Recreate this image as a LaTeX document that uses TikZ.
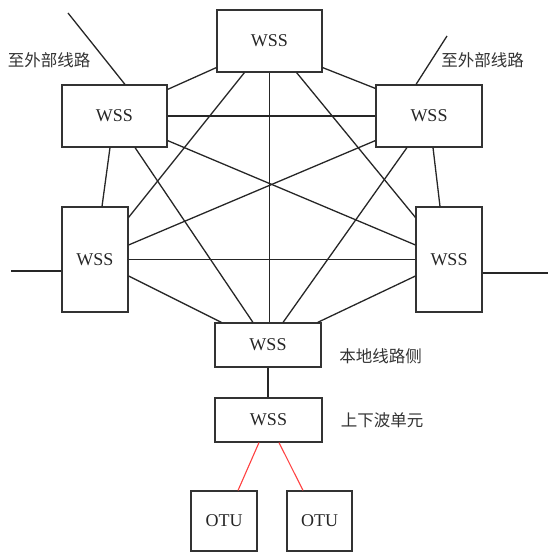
\documentclass[tikz,border=0pt]{standalone}
\usepackage{fontspec}
\setmainfont{Liberation Serif}
\newfontfamily\cjk{Noto Sans CJK SC}
\begin{document}
\begin{tikzpicture}[x=1pt,y=-1pt,
  box/.style={draw=black!80,line width=1.1pt,inner sep=0pt,font=\fontsize{18}{18}\selectfont,text=black!85},
  link/.style={draw=black!85,line width=1.3pt},
  redlink/.style={draw=red!75,line width=1.1pt},
  lbl/.style={font=\cjk\fontsize{16.5}{16.5}\selectfont,text=black!80,inner sep=0pt}]
\useasboundingbox (0,0) rectangle (548,553);
% boxes
\node[box,minimum width=105pt,minimum height=62pt] (T) at (269.5,41) {WSS};
\node[box,minimum width=105pt,minimum height=62pt] (UL) at (114.5,116) {WSS};
\node[box,minimum width=106pt,minimum height=62pt] (UR) at (429,116) {WSS};
\node[box,minimum width=66pt,minimum height=105pt] (ML) at (95,259.5) {WSS};
\node[box,minimum width=66pt,minimum height=105pt] (MR) at (449,259.5) {WSS};
\node[box,minimum width=106pt,minimum height=44pt] (B) at (268,345) {WSS};
\node[box,minimum width=107pt,minimum height=44pt] (W2) at (268.5,420) {WSS};
\node[box,minimum width=66pt,minimum height=60pt] (O1) at (224,521) {OTU};
\node[box,minimum width=65pt,minimum height=60pt] (O2) at (319.5,521) {OTU};
% labels
\node[lbl] (l1) at (49,60) {至外部线路};
\node[lbl] (l2) at (482.5,60) {至外部线路};
\node[lbl] (l3) at (380.5,356) {本地线路侧};
\node[lbl] (l4) at (382,420) {上下波单元};
% free ends
\coordinate (eUL) at (68,13);
\coordinate (eUR) at (447,36);
\coordinate (eML) at (11,271);
\coordinate (eMR) at (548,273);
% mesh
\draw[link] ([yshift=5pt]T.south west) -- ([yshift=-5pt]UL.north east);
\draw[link] ([yshift=5pt]T.south east) -- ([yshift=-4pt]UR.north west);
\draw[link] ([xshift=28pt]T.south west) -- ([yshift=-11pt]ML.north east);
\draw[link] ([xshift=-26pt]T.south east) -- ([yshift=-11pt]MR.north west);
\draw[link] (T.south) -- (T.south |- B.north);
\draw[link] (UL.east) -- (UR.west);
\draw[link] ([yshift=7pt]UL.south east) -- ([yshift=14.5pt]MR.west);
\draw[link] ([xshift=-4.5pt]UL.south) -- ([xshift=7pt]ML.north);
\draw[link] ([xshift=20.5pt]UL.south) -- ([xshift=-15pt]B.north);
\draw[link] ([yshift=7pt]UR.south west) -- ([yshift=14.5pt]ML.east);
\draw[link] ([xshift=4pt]UR.south) -- ([xshift=-9pt]MR.north);
\draw[link] ([xshift=-22pt]UR.south) -- ([xshift=15pt]B.north);
\draw[link] (ML.east) -- (MR.west);
\draw[link] ([yshift=-16.5pt]ML.east) -- ([xshift=7pt]B.north west);
\draw[link] ([yshift=-16.5pt]MR.west) -- ([xshift=-4pt]B.north east);
% external
\draw[link] ([xshift=10.5pt]UL.north) -- (eUL);
\draw[link] ([xshift=-13pt]UR.north) -- (eUR);
\draw[link] ([yshift=-11.5pt]ML.west) -- (eML);
\draw[link] ([yshift=-13.5pt]MR.east) -- (eMR);
% local
\draw[link] (B.south) -- (W2.north -| B.south);
\draw[redlink] ([xshift=-9.5pt]W2.south) -- ([xshift=14pt]O1.north);
\draw[redlink] ([xshift=10.5pt]W2.south) -- ([xshift=-16.5pt]O2.north);
\end{tikzpicture}
\end{document}
